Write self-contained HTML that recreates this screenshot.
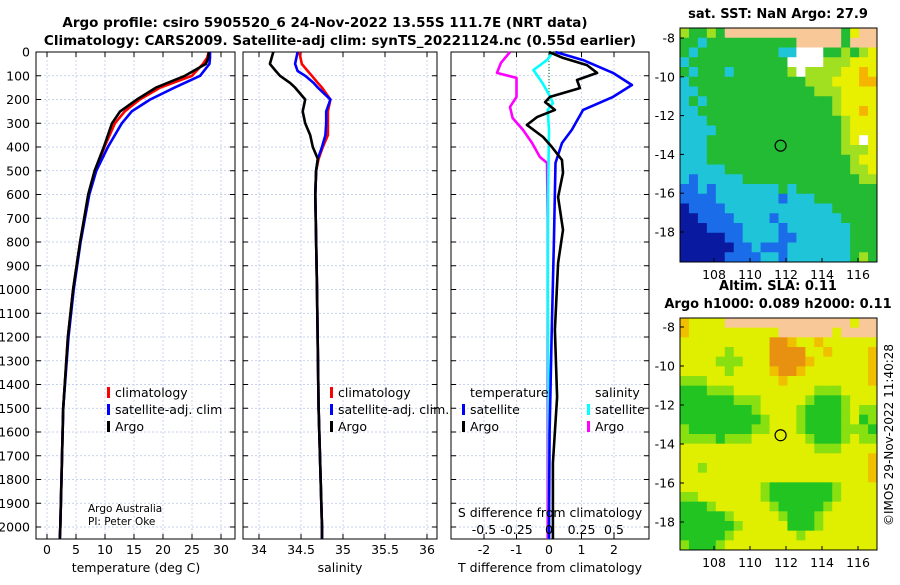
<!DOCTYPE html>
<html><head><meta charset="utf-8"><style>
body{margin:0;background:#fff;}
svg{font-family:"DejaVu Sans","Liberation Sans",sans-serif;}
</style></head><body>
<svg id="fig" width="900" height="580" viewBox="0 0 900 580" xmlns="http://www.w3.org/2000/svg">
<text x="325" y="27" text-anchor="middle" font-size="13.5" font-weight="bold">Argo profile: csiro 5905520_6 24-Nov-2022 13.55S 111.7E (NRT data)</text>
<text x="340" y="45" text-anchor="middle" font-size="13.5" font-weight="bold">Climatology: CARS2009. Satellite-adj clim: synTS_20221124.nc (0.55d earlier)</text>
<g id="plots"></g>
<text transform="translate(893,435) rotate(-90)" text-anchor="middle" font-size="12">©IMOS 29-Nov-2022 11:40:28</text>
</svg>
<script>
// ---- data ----
const tDepth   = [0,25,50,100,150,200,250,300,400,500,600,800,1000,1200,1500,2000,2050];
const tClim    = [27.9,27.6,26.9,25.0,19.5,16.0,13.4,11.7,9.9,8.3,7.2,5.7,4.5,3.6,2.8,2.3,2.2];
const tArgo    = [27.9,27.8,27.4,23.8,18.8,15.5,12.6,11.2,9.8,8.2,7.1,5.7,4.5,3.6,2.8,2.3,2.2];
const tSat     = [28.1,28.1,28.0,26.4,22.0,17.8,14.6,12.9,10.5,8.5,7.3,5.8,4.6,3.7,2.8,2.3,2.2];
const sDepth   = [0,50,80,100,130,150,200,250,300,350,400,450,500,600,1000,1500,2000,2050];
const sArgo    = [34.17,34.13,34.2,34.25,34.37,34.43,34.55,34.52,34.55,34.61,34.64,34.70,34.68,34.67,34.69,34.71,34.75,34.75];
const sClim    = [34.48,34.51,34.58,34.63,34.70,34.75,34.85,34.82,34.82,34.82,34.76,34.71,34.68,34.67,34.69,34.71,34.75,34.75];
const sSat     = [34.46,34.43,34.46,34.55,34.65,34.70,34.85,34.80,34.80,34.79,34.75,34.70,34.68,34.67,34.69,34.71,34.75,34.75];
const dtSatDepth = [0,34,88,139,189,244,328,383,467,800,1200,1600,2000,2050];
const dtSat      = [0.2,1.05,1.97,2.55,1.97,1.05,0.7,0.4,0.2,0.15,0.08,0.02,0,0];
const dtArgoDepth = [0,25,55,88,118,152,189,211,244,274,307,358,400,455,509,611,749,888,1171,1453,1731,2050];
const dtArgo      = [0,0.43,1.17,1.48,0.86,0.95,0.03,-0.12,0.18,-0.37,-0.68,-0.18,0.09,0.4,0.43,0.28,0.43,0.28,0.18,0.25,0.12,0.12];
const dsSatDepth = [0,34,76,131,189,215,244,328,600,1000,1500,2000,2050];
const dsSat      = [0.03,-0.015,-0.12,-0.05,0.01,0.03,-0.01,0,-0.008,-0.01,-0.005,0,0];
const dsArgoDepth = [0,46,88,109,189,231,278,328,383,442,467,700,1200,2050];
const dsArgo      = [-0.3,-0.37,-0.4,-0.25,-0.25,-0.3,-0.28,-0.2,-0.13,-0.07,-0.015,-0.01,-0.01,-0.01];
const depthTicks = [0,100,200,300,400,500,600,700,800,900,1000,1100,1200,1300,1400,1500,1600,1700,1800,1900,2000];
const tTicks = [0,5,10,15,20,25,30];
const sTicks = [34,34.5,35,35.5,36];
const sTickLabels = ["34","34.5","35","35.5","36"];
const dtTicks = [-2,-1,0,1,2];
const dsTicks = [-0.5,-0.25,0,0.25,0.5];
const dsTickLabels = ["-0.5","-0.25","0","0.25","0.5"];
const lonTicks = [108,110,112,114,116];
const latTicks = [-8,-10,-12,-14,-16,-18];
const argoLon = 111.7, argoLat = -13.55;
const sstRows = [
"gGGgGLLLLLLLLLLLLLGYLL","GGCGGGGGGGGGGLLLLLGLLL","GCGGGGGGGGGCCWWWGGgGgY","CGGGGGGGGGGGWWWWgggYYY",
"GCGGGCGGGGGGgWggggYYOY","CGGGGGGGGGGGGGgggYYYOO","CCGGGGGGGGGGGGGgggYYYY","CGCGGGGGGGGGGGGGGgYYYY",
"CCGGGGGGGGGGGGGGGgYYOY","CCCGGGGGGGGGGGGGGGgYYY","CCCCGGGGGGGGGGGGGGgYYY","CCCGGGGGGGGGGGGGGGgYWY",
"CCCGGGGGGGGGGGGGGGgggY","CCCGGGGGGGGGGGGGGGGgYY","CCCCCGGGGGGGGGGGGGGggY","CBCCCCCGGGGGGGGGGGGGgg",
"BBCBCCCCCCCGCGGGGGGGGG","BBBBCCCCCCCBCCCGGGGGGG","DBBBBCCCCCCCCCCCCGGGGG","DDBBBBCCCCBCCCCCCCGGGG",
"DDDBBBBCCCCBCCCCCCCGGG","DDDDDBBCCCCBBCCCCCCGGG","DDDDDDBBCBBBCCCCCCCGGG","DDDDDBBBBCCBCCCCCCCGgG"];
const slaRows = [
"oYYYYLLLLLLLLLLLLLLYLL","oYYYYYYYYYYLLLLLLYLLLL","YYYYYYYYYYOOoYYoYYYYYY","YYYYYgYYYYOOOOYYoYYYYo",
"YYYYgggYYYOOOOoYYYYYYo","YYYYYgYYYYoOOoYYYYYYYo","gggYYYYYYYYoYYYYYYYYYo","GGGgggYYYYYYYYYgggYYYY",
"GGGGGGgggYYYYYgGGGgYYY","GGGGGGGGgYYYYgGGGGgYgg","GGGGGGGGGgYYYgGGGGgYGg","gGGGGGGGggYYYgGGGGgggG",
"ggggGgggYYYYYYgGGGgYgg","YYYYYYYYYYYYYYYgggYYYY","YYYYYYYYYYYYYYYYYYYYYo","YYgYYYYYYYYYYYYYYYYYYo",
"YYYYYYYYYYYYYYYYYYYYYo","YYYYYYYYYgGGGGGGGgYYYY","ggYYYYYYYgGGGGGGGgYYYY","GGGgYYYYYYgGGGGGgYYYYY",
"GGGGGgYYYYYgGGGgYYYYYY","GGGGGGgYYYYYGGGgYYYYYY","GGGGGgYYYYYYYgYYYYYYYY","gGGGgYYYYYYYYYYYYYYYYY"];

const NS="http://www.w3.org/2000/svg";
const root=document.getElementById('plots');
function mk(tag,attrs,parent){const e=document.createElementNS(NS,tag);for(const k in attrs)e.setAttribute(k,attrs[k]);(parent||root).appendChild(e);return e;}
function txt(x,y,s,size,anchor,parent){const e=mk('text',{x:x,y:y,'font-size':size,'text-anchor':anchor||'middle'},parent);e.textContent=s;return e;}
const y0=52, yPer=0.2375, axTop=52, axBot=539;
const yD=d=>y0+d*yPer;
const xT=v=>47+5.8*v, xS=v=>259+84*(v-34), xDT=v=>549+32.5*v, xDS=v=>549+130*v;

function panel(name,x0,x1,ticksX,fx){
  const g=mk('g',{});
  
  
  depthTicks.forEach(d=>{const l=mk('line',{x1:x0,x2:x1,y1:yD(d),y2:yD(d),stroke:'#b8c4e8','stroke-width':0.7,'stroke-dasharray':'2,2'},g);
    mk('line',{x1:x0,x2:x0+5,y1:yD(d),y2:yD(d),stroke:'#000'},g);mk('line',{x1:x1-5,x2:x1,y1:yD(d),y2:yD(d),stroke:'#000'},g);});
  ticksX.forEach(v=>{const X=fx(v);mk('line',{x1:X,x2:X,y1:axTop,y2:axBot,stroke:'#b8c4e8','stroke-width':0.7,'stroke-dasharray':'2,2'},g);
    mk('line',{x1:X,x2:X,y1:axBot-5,y2:axBot,stroke:'#000'},g);mk('line',{x1:X,x2:X,y1:axTop,y2:axTop+5,stroke:'#000'},g);});
  const r=mk('rect',{x:x0,y:axTop,width:x1-x0,height:axBot-axTop,fill:'none',stroke:'#000','stroke-width':1},g);
  
  return g;
}
function line(g,name,xs,ds,fx,color,w){
  const pts=xs.map((v,i)=>fx(v).toFixed(1)+','+yD(ds[i]).toFixed(1)).join(' ');
  const p=mk('polyline',{points:pts,fill:'none',stroke:color,'stroke-width':w||2.6,'stroke-linejoin':'round'},g);
  
  
}
function legend(g,x,y,items){
  items.forEach((it,i)=>{const yy=y+i*17;
    mk('rect',{x:x,y:yy-10,width:3,height:11,fill:it[1]},g);
    const t=txt(x+8,yy,it[0],12.5,'start',g);
    
    });
}
// panel 1
const p1=panel('temperature-panel',36,235,tTicks,xT);
line(p1,'temp-climatology',tClim,tDepth,xT,'#f00');
line(p1,'temp-satellite-adj',tSat,tDepth,xT,'#00f');
line(p1,'temp-argo',tArgo,tDepth,xT,'#000');
depthTicks.forEach(d=>{const t=txt(30,yD(d)+4.5,String(d),12.5,'end',p1);});
tTicks.forEach(v=>txt(xT(v),554,String(v),12.5,'middle',p1));
txt(136,572,'temperature (deg C)',12.5,'middle',p1);
legend(p1,107,397,[['climatology','#f00'],['satellite-adj. clim','#00f'],['Argo','#000']]);
txt(88,512,'Argo Australia',10.5,'start',p1);txt(88,525,'PI: Peter Oke',10.5,'start',p1);
// panel 2
const p2=panel('salinity-panel',243,437,sTicks,xS);
line(p2,'sal-climatology',sClim,sDepth,xS,'#f00');
line(p2,'sal-satellite-adj',sSat,sDepth,xS,'#00f');
line(p2,'sal-argo',sArgo,sDepth,xS,'#000');
sTicks.forEach((v,i)=>txt(xS(v),554,sTickLabels[i],12.5,'middle',p2));
txt(340,572,'salinity',12.5,'middle',p2);
legend(p2,330,397,[['climatology','#f00'],['satellite-adj. clim.','#00f'],['Argo','#000']]);
// panel 3
const p3=panel('difference-panel',451,649,dtTicks,xDT);
mk('line',{x1:549,x2:549,y1:axTop,y2:160,stroke:'#060','stroke-width':1,'stroke-dasharray':'1,2'},p3);
line(p3,'sal-diff-argo',dsArgo,dsArgoDepth,xDS,'#f0f');
line(p3,'sal-diff-satellite',dsSat,dsSatDepth,xDS,'#0ff');
line(p3,'temp-diff-satellite',dtSat,dtSatDepth,xDT,'#00f');
line(p3,'temp-diff-argo',dtArgo,dtArgoDepth,xDT,'#000');
txt(470,397,'temperature',12.5,'start',p3);txt(595,397,'salinity',12.5,'start',p3);
legend(p3,462,414,[['satellite','#00f'],['Argo','#000']]);
legend(p3,587,414,[['satellite','#0ff'],['Argo','#f0f']]);
txt(550,517,'S difference from climatology',12.5,'middle',p3);
dsTicks.forEach((v,i)=>txt(xDS(v),534,dsTickLabels[i],12.5,'middle',p3));
dtTicks.forEach(v=>txt(xDT(v),554,String(v),12.5,'middle',p3));
txt(550,572,'T difference from climatology',12.5,'middle',p3);

// maps
const sstCol={G:'#22bb33',g:'#a0e020',Y:'#e8f000',O:'#f4b400',C:'#20c4d8',B:'#1a6ce8',D:'#0a1aa0',W:'#ffffff',L:'#f8c898'};
const slaCol={G:'#22c422',g:'#88e010',Y:'#e0ee00',O:'#e89010',o:'#f0c000',L:'#f8c898'};
function map(name,top,bot,rows,cols,title){
  const g=mk('g',{});
  
  
  const x0=680,x1=877,nr=rows.length,nc=rows[0].length,cw=(x1-x0)/nc,ch=(bot-top)/nr;
  rows.forEach((r,i)=>{for(let j=0;j<nc;j++)mk('rect',{x:(x0+j*cw).toFixed(2),y:(top+i*ch).toFixed(2),width:(cw+0.5).toFixed(2),height:(ch+0.5).toFixed(2),fill:cols[r[j]]},g);});
  const lonX=v=>714+18*(v-108);
  const latY=top===28?(v=>38+19.4*(-8-v)):(v=>327+19.5*(-8-v));
  mk('rect',{x:x0,y:top,width:x1-x0,height:bot-top,fill:'none',stroke:'#000'},g);
  lonTicks.forEach(v=>{mk('line',{x1:lonX(v),x2:lonX(v),y1:bot-4,y2:bot,stroke:'#000'},g);txt(lonX(v),bot+17,String(v),12.5,'middle',g);});
  latTicks.forEach(v=>{mk('line',{x1:x0,x2:x0+4,y1:latY(v),y2:latY(v),stroke:'#000'},g);txt(x0-5,latY(v)+4.5,String(v),12.5,'end',g);});
  const c=mk('circle',{cx:lonX(argoLon),cy:latY(argoLat),r:5.5,fill:'none',stroke:'#000','stroke-width':1.2},g);
  
  
  title.forEach((t,i)=>{const e=txt(778,top-10-(title.length-1-i)*18,t,13,'middle',g);e.setAttribute('font-weight','bold');});
}
map('sst-map',28,262,sstRows,sstCol,['sat. SST: NaN Argo: 27.9']);
map('sla-map',318,550,slaRows,slaCol,['Altim. SLA: 0.11','Argo h1000: 0.089 h2000: 0.11']);
</script>
</body></html>
